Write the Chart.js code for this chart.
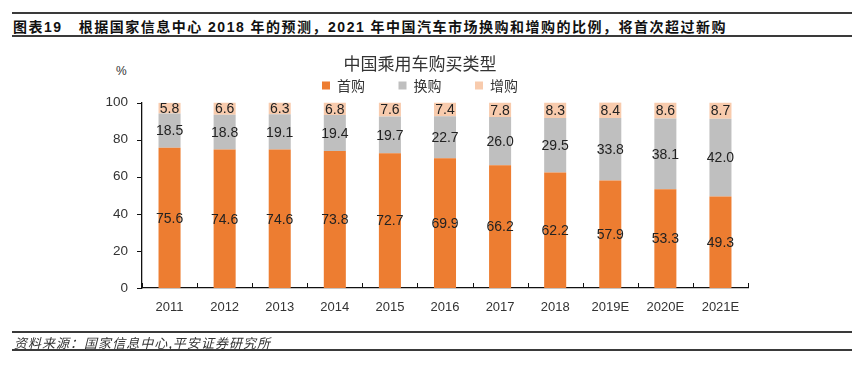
<!DOCTYPE html>
<html>
<head>
<meta charset="utf-8">
<script src="https://cdn.jsdelivr.net/npm/chart.js@4.4.1/dist/chart.umd.min.js"></script>
<style>
  html, body { margin: 0; padding: 0; background: #fff; }
  #wrap { position: relative; width: 864px; height: 373px; overflow: hidden; background: #fff; }
  #c { position: absolute; left: 0; top: 0; }
  .rule { position: absolute; left: 12px; width: 840px; height: 2px; background: #3a3a3a; }
  #head { position: absolute; left: 13px; top: 16px; font: bold 14px "Liberation Sans", "Noto Sans CJK SC", sans-serif; color: #111; white-space: nowrap; }
  #foot { position: absolute; left: 14px; top: 333px; font: italic 13px "Noto Sans CJK SC", sans-serif; color: #333; white-space: nowrap; }
  #pct { position: absolute; left: 116px; top: 64px; font: 12px "Liberation Sans", sans-serif; color: #333; }
</style>
</head>
<body>
<div id="wrap">
  <div class="rule" style="top:12px"></div>
  <div id="head">图表19&nbsp;&nbsp;&nbsp;根据国家信息中心 2018 年的预测，2021 年中国汽车市场换购和增购的比例，将首次超过新购</div>
  <div class="rule" style="top:35px"></div>
  <div id="pct">%</div>
  <canvas id="c" width="864" height="373"></canvas>
  <div class="rule" style="top:331px"></div>
  <div id="foot">资料来源：国家信息中心,平安证券研究所</div>
  <div class="rule" style="top:349px"></div>
</div>
<script>
const categories = ['2011','2012','2013','2014','2015','2016','2017','2018','2019E','2020E','2021E'];
const firstBuy   = [75.6, 74.6, 74.6, 73.8, 72.7, 69.9, 66.2, 62.2, 57.9, 53.3, 49.3];
const replaceBuy = [18.5, 18.8, 19.1, 19.4, 19.7, 22.7, 26.0, 29.5, 33.8, 38.1, 42.0];
const addBuy     = [5.8, 6.6, 6.3, 6.8, 7.6, 7.4, 7.8, 8.3, 8.4, 8.6, 8.7];
const seriesNames = ['首购', '换购', '增购'];
const yTicks = [0, 20, 40, 60, 80, 100];
const chartTitle = '中国乘用车购买类型';

const colors = ['#ED7D31', '#BFBFBF', '#F8CBAD'];

// stretch header / footer text to the reference widths
function fitWidth(id, target) {
  const el = document.getElementById(id);
  const n = el.textContent.length;
  const w = el.getBoundingClientRect().width;
  el.style.letterSpacing = ((target - w) / n) + 'px';
}
fitWidth('head', 714);
fitWidth('foot', 257);

const labelPlugin = {
  id: 'valueLabels',
  afterDatasetsDraw(chart) {
    const ctx = chart.ctx;
    ctx.save();
    ctx.font = '14px "Liberation Sans", Arial, sans-serif';
    ctx.fillStyle = '#222';
    ctx.textAlign = 'center';
    ctx.textBaseline = 'middle';
    chart.data.datasets.forEach((ds, di) => {
      const meta = chart.getDatasetMeta(di);
      meta.data.forEach((bar, i) => {
        const v = ds.data[i];
        ctx.fillText(v.toFixed(1), bar.x, (bar.y + bar.base) / 2 + 1);
      });
    });
    ctx.restore();
  }
};

const tickPlugin = {
  id: 'axisTicks',
  afterDraw(chart) {
    const ctx = chart.ctx;
    const y = chart.scales.y;
    const a = chart.chartArea;
    ctx.save();
    ctx.strokeStyle = '#111';
    ctx.lineWidth = 1;
    ctx.beginPath();
    const n = categories.length;
    const w = (a.right - a.left) / n;
    for (let i = 0; i <= n; i++) {
      const px = Math.round(a.left + i * w) + 0.5;
      ctx.moveTo(px, a.bottom);
      ctx.lineTo(px, a.bottom - 5);
    }
    yTicks.forEach(t => {
      const py = Math.round(y.getPixelForValue(t)) + 0.5;
      ctx.moveTo(a.left, py);
      ctx.lineTo(a.left - 5, py);
    });
    ctx.stroke();
    ctx.restore();
  }
};

new Chart(document.getElementById('c'), {
  type: 'bar',
  data: {
    labels: categories,
    datasets: [firstBuy, replaceBuy, addBuy].map((d, i) => ({
      label: seriesNames[i],
      data: d,
      backgroundColor: colors[i],
      borderWidth: 0,
      barPercentage: 0.4,
      categoryPercentage: 1.0
    }))
  },
  options: {
    responsive: false,
    animation: false,
    devicePixelRatio: 1,
    layout: { padding: { left: 92, right: 116, top: 0, bottom: 45 } },
    plugins: {
      title: {
        display: true,
        text: chartTitle,
        color: '#333',
        font: { size: 17, family: '"Noto Sans CJK SC", sans-serif', weight: 'normal' },
        padding: { top: 53.8, bottom: -29.2 }
      },
      legend: {
        display: true,
        labels: {
          color: '#333',
          font: { size: 14, family: '"Noto Sans CJK SC", sans-serif' },
          boxWidth: 8,
          boxHeight: 8,
          padding: 33.5
        }
      },
      tooltip: { enabled: false }
    },
    scales: {
      x: {
        stacked: true,
        grid: { display: false, drawTicks: false },
        border: { display: true, color: '#111', width: 1.3 },
        ticks: { color: '#333', font: { size: 13, family: '"Liberation Sans", Arial, sans-serif' }, padding: 12 },
        afterFit(s) { s.height = 40; }
      },
      y: {
        stacked: true,
        min: 0,
        max: 100,
        grid: { display: false, drawTicks: false },
        border: { display: true, color: '#111', width: 1.3 },
        ticks: {
          stepSize: 20,
          color: '#333',
          font: { size: 13.5, family: '"Liberation Sans", Arial, sans-serif' },
          padding: 14
        },
        afterFit(s) { s.width = 50; }
      }
    }
  },
  plugins: [labelPlugin, tickPlugin]
});
</script>
</body>
</html>
